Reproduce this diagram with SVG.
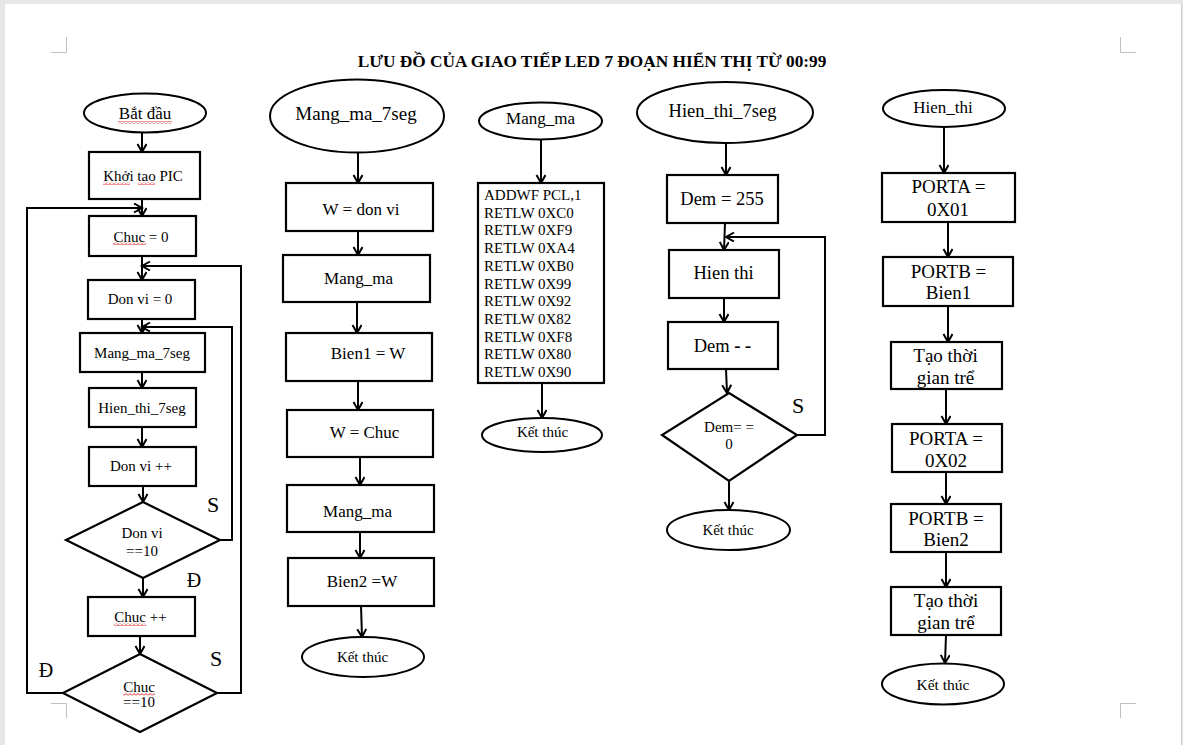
<svg xmlns="http://www.w3.org/2000/svg" width="1183" height="745" viewBox="0 0 1183 745">
<style>
.box{fill:#fff;stroke:#000;stroke-width:2.2}
.term{fill:#fff;stroke:#000;stroke-width:2}
.c{fill:none;stroke:#000;stroke-width:2}
.a{marker-end:url(#ah)}
.t{font-family:"Liberation Serif","Times New Roman",serif;fill:#000;text-anchor:middle}
.l{font-family:"Liberation Serif","Times New Roman",serif;fill:#000;text-anchor:start}
.mk{fill:none;stroke:#bfbfbf;stroke-width:1}
.sq{fill:url(#sqp)}
</style>
<defs>
<marker id="ah" markerUnits="userSpaceOnUse" markerWidth="12" markerHeight="12" refX="9" refY="5" orient="auto">
<path d="M1,0.5 L9,5 L1,9.5" fill="none" stroke="#000" stroke-width="2"/>
</marker>
<pattern id="sqp" patternUnits="userSpaceOnUse" width="4" height="3">
<path d="M0,2.5 L2,0.5 L4,2.5" fill="none" stroke="#e02020" stroke-width="1"/>
</pattern>
</defs>
<rect width="1183" height="745" fill="#e6e6e6"/>
<rect x="5" y="4" width="1176" height="741" fill="#fff"/>
<line x1="1181.5" y1="4" x2="1181.5" y2="745" stroke="#cfcfcf" stroke-width="1"/>
<g id="page-marks">
<path class="mk" d="M66.5,37 V52.5 H51"/>
<path class="mk" d="M1120.5,37 V52.5 H1136"/>
<path class="mk" d="M51,703.5 H66.5 V718"/>
<path class="mk" d="M1136,703.5 H1120.5 V718"/>
</g>
<text id="title" class="t" x="592" y="67" font-size="17.3" font-weight="bold">LƯU ĐỒ CỦA GIAO TIẾP LED 7 ĐOẠN HIỂN THỊ TỪ 00:99</text>

<g id="connectors">
<!-- column 1 -->
<path class="c a" d="M142,132 V152"/>
<path class="c a" d="M142,199 V216"/>
<path class="c a" d="M63,693 H27 V208 H142"/>
<path class="c a" d="M142,256 V280"/>
<path class="c a" d="M217,693 H241 V266 H142"/>
<path class="c a" d="M142,319 V333"/>
<path class="c a" d="M220,540 H232 V327 H142"/>
<path class="c a" d="M142,372 V388"/>
<path class="c a" d="M142,427 V447"/>
<path class="c a" d="M143,486 V502"/>
<path class="c a" d="M143,578 V597"/>
<path class="c a" d="M140,636 V654"/>
<!-- column 2 -->
<path class="c a" d="M358,153 V183"/>
<path class="c a" d="M358,231 V255"/>
<path class="c a" d="M357,302 V333"/>
<path class="c a" d="M358,381 V410"/>
<path class="c a" d="M360,457 V485"/>
<path class="c a" d="M360,532 V558"/>
<path class="c a" d="M361,606 L362,637"/>
<!-- column 3 -->
<path class="c a" d="M541,140 V183"/>
<path class="c a" d="M542,383 V418"/>
<!-- column 4 -->
<path class="c a" d="M726,143 V175"/>
<path class="c a" d="M725,223 L724,250"/>
<path class="c a" d="M797,435 H825 V237 H726"/>
<path class="c a" d="M724,298 V322"/>
<path class="c a" d="M726,369 L727,393"/>
<path class="c a" d="M729,481 V510"/>
<!-- column 5 -->
<path class="c a" d="M944,127 V173"/>
<path class="c a" d="M948,222 V257"/>
<path class="c a" d="M948,306 V342"/>
<path class="c a" d="M946,389 V424"/>
<path class="c a" d="M946,472 V504"/>
<path class="c a" d="M946,552 V587"/>
<path class="c a" d="M946,635 L945,663"/>
</g>

<!-- column 1 -->
<g id="c1-start"><ellipse class="term" cx="145" cy="113" rx="61" ry="19.5"/><text class="t" x="145" y="119" font-size="17">Bắt đầu</text></g>
<g id="c1-init"><rect class="box" x="89" y="152" width="111" height="47"/><text class="t" x="143" y="181" font-size="15">Khởi tao PIC</text></g>
<g id="c1-chuc0"><rect class="box" x="89" y="216" width="107" height="40"/><text class="t" x="141" y="242" font-size="15">Chuc = 0</text></g>
<g id="c1-donvi0"><rect class="box" x="88" y="280" width="107" height="39"/><text class="t" x="140" y="304" font-size="15">Don vi = 0</text></g>
<g id="c1-mangma"><rect class="box" x="80" y="333" width="125" height="39"/><text class="t" x="142" y="358" font-size="15">Mang_ma_7seg</text></g>
<g id="c1-hienthi"><rect class="box" x="89" y="388" width="107" height="39"/><text class="t" x="142" y="413" font-size="15">Hien_thi_7seg</text></g>
<g id="c1-donvi-inc"><rect class="box" x="89" y="447" width="107" height="39"/><text class="t" x="141" y="471" font-size="15">Don vi ++</text></g>
<g id="c1-dec-donvi"><path class="box" d="M143,502 L220,540 L143,578 L66,540 Z"/><text class="t" x="142" y="538" font-size="15">Don vi</text><text class="t" x="142" y="556" font-size="15">==10</text></g>
<g id="c1-chuc-inc"><rect class="box" x="88" y="597" width="107" height="39"/><text class="t" x="140.5" y="622" font-size="15">Chuc ++</text></g>
<g id="c1-dec-chuc"><path class="box" d="M140,654 L217,693 L140,732 L63,693 Z"/><text class="t" x="139" y="692" font-size="15">Chuc</text><text class="t" x="139" y="707" font-size="15">==10</text></g>
<g id="c1-labels">
<text class="t" x="213" y="512" font-size="22">S</text>
<text class="t" x="194" y="587" font-size="20">Đ</text>
<text class="t" x="216" y="666" font-size="22">S</text>
<text class="t" x="46" y="677" font-size="20">Đ</text>
</g>
<g id="spellcheck">
<rect class="sq" x="118" y="121" width="54" height="3"/>
<rect class="sq" x="103" y="182" width="27" height="3"/>
<rect class="sq" x="138" y="182" width="17" height="3"/>
<rect class="sq" x="113" y="242" width="33" height="3"/>
<rect class="sq" x="114" y="623" width="32" height="3"/>
<rect class="sq" x="123" y="693" width="32" height="3"/>
</g>

<!-- column 2 -->
<g id="c2-start"><ellipse class="term" cx="357" cy="116" rx="87" ry="36.5"/><text class="t" x="356" y="120" font-size="19">Mang_ma_7seg</text></g>
<g id="c2-w-donvi"><rect class="box" x="286" y="183" width="147" height="48"/><text class="t" x="361" y="215" font-size="17">W = don vi</text></g>
<g id="c2-mangma1"><rect class="box" x="283" y="255" width="147" height="47"/><text class="t" x="358.5" y="284" font-size="17">Mang_ma</text></g>
<g id="c2-bien1"><rect class="box" x="286" y="333" width="146" height="48"/><text class="t" x="368" y="359" font-size="17">Bien1 = W</text></g>
<g id="c2-w-chuc"><rect class="box" x="287" y="410" width="146" height="47"/><text class="t" x="364.5" y="438" font-size="17">W = Chuc</text></g>
<g id="c2-mangma2"><rect class="box" x="287" y="485" width="147" height="47"/><text class="t" x="357.5" y="517" font-size="17">Mang_ma</text></g>
<g id="c2-bien2"><rect class="box" x="288" y="558" width="146" height="48"/><text class="t" x="362" y="587" font-size="17">Bien2 =W</text></g>
<g id="c2-end"><ellipse class="term" cx="363" cy="657" rx="61" ry="20"/><text class="t" x="362.5" y="662" font-size="15">Kết thúc</text></g>

<!-- column 3 -->
<g id="c3-start"><ellipse class="term" cx="540.5" cy="121" rx="61.5" ry="18.5"/><text class="t" x="540.5" y="124" font-size="17">Mang_ma</text></g>
<g id="c3-table"><rect class="box" x="478" y="183" width="126" height="200"/>
<text class="l" font-size="15" x="484">
<tspan x="484" y="200">ADDWF PCL,1</tspan>
<tspan x="484" y="217.7">RETLW 0XC0</tspan>
<tspan x="484" y="235.4">RETLW 0XF9</tspan>
<tspan x="484" y="253.1">RETLW 0XA4</tspan>
<tspan x="484" y="270.8">RETLW 0XB0</tspan>
<tspan x="484" y="288.5">RETLW 0X99</tspan>
<tspan x="484" y="306.2">RETLW 0X92</tspan>
<tspan x="484" y="323.9">RETLW 0X82</tspan>
<tspan x="484" y="341.6">RETLW 0XF8</tspan>
<tspan x="484" y="359.3">RETLW 0X80</tspan>
<tspan x="484" y="377">RETLW 0X90</tspan>
</text></g>
<g id="c3-end"><ellipse class="term" cx="542" cy="435" rx="60" ry="17"/><text class="t" x="542.5" y="437" font-size="15">Kết thúc</text></g>

<!-- column 4 -->
<g id="c4-start"><ellipse class="term" cx="725" cy="112.5" rx="88" ry="30.5"/><text class="t" x="722.5" y="117" font-size="18.5">Hien_thi_7seg</text></g>
<g id="c4-dem255"><rect class="box" x="667" y="175" width="111" height="48"/><text class="t" x="722" y="205" font-size="18.5">Dem = 255</text></g>
<g id="c4-hienthi"><rect class="box" x="669" y="250" width="110" height="48"/><text class="t" x="723.5" y="279" font-size="18.5">Hien thi</text></g>
<g id="c4-demdec"><rect class="box" x="668" y="322" width="110" height="47"/><text class="t" x="722.5" y="352" font-size="18.5">Dem <tspan font-weight="bold">- -</tspan></text></g>
<g id="c4-dec"><path class="box" d="M729,393 L797,435 L729,481 L662,435 Z"/><text class="t" x="729" y="432" font-size="15">Dem= =</text><text class="t" x="729" y="449" font-size="15">0</text></g>
<text id="c4-label-s" class="t" x="798" y="413" font-size="22">S</text>
<g id="c4-end"><ellipse class="term" cx="728.5" cy="530" rx="61.5" ry="20"/><text class="t" x="728" y="535" font-size="15">Kết thúc</text></g>

<!-- column 5 -->
<g id="c5-start"><ellipse class="term" cx="944" cy="108.5" rx="61" ry="18.5"/><text class="t" x="943" y="113" font-size="17">Hien_thi</text></g>
<g id="c5-porta1"><rect class="box" x="882" y="173" width="133" height="49"/><text class="t" x="948.5" y="193" font-size="19">PORTA =</text><text class="t" x="948" y="216" font-size="19">0X01</text></g>
<g id="c5-portb1"><rect class="box" x="883" y="257" width="130" height="49"/><text class="t" x="948.5" y="278" font-size="19">PORTB =</text><text class="t" x="948.5" y="299" font-size="19">Bien1</text></g>
<g id="c5-delay1"><rect class="box" x="891" y="342" width="111" height="47"/><text class="t" x="945.5" y="362" font-size="19">Tạo thời</text><text class="t" x="945.5" y="384" font-size="19">gian trể</text></g>
<g id="c5-porta2"><rect class="box" x="892" y="424" width="110" height="48"/><text class="t" x="946" y="445" font-size="19">PORTA =</text><text class="t" x="946" y="467" font-size="19">0X02</text></g>
<g id="c5-portb2"><rect class="box" x="891" y="504" width="110" height="48"/><text class="t" x="946" y="525" font-size="19">PORTB =</text><text class="t" x="946" y="546" font-size="19">Bien2</text></g>
<g id="c5-delay2"><rect class="box" x="891" y="587" width="110" height="48"/><text class="t" x="946" y="607" font-size="19">Tạo thời</text><text class="t" x="946" y="629" font-size="19">gian trể</text></g>
<g id="c5-end"><ellipse class="term" cx="943" cy="684" rx="61" ry="20.5"/><text class="t" x="943" y="690" font-size="15.5">Kết thúc</text></g>
</svg>
